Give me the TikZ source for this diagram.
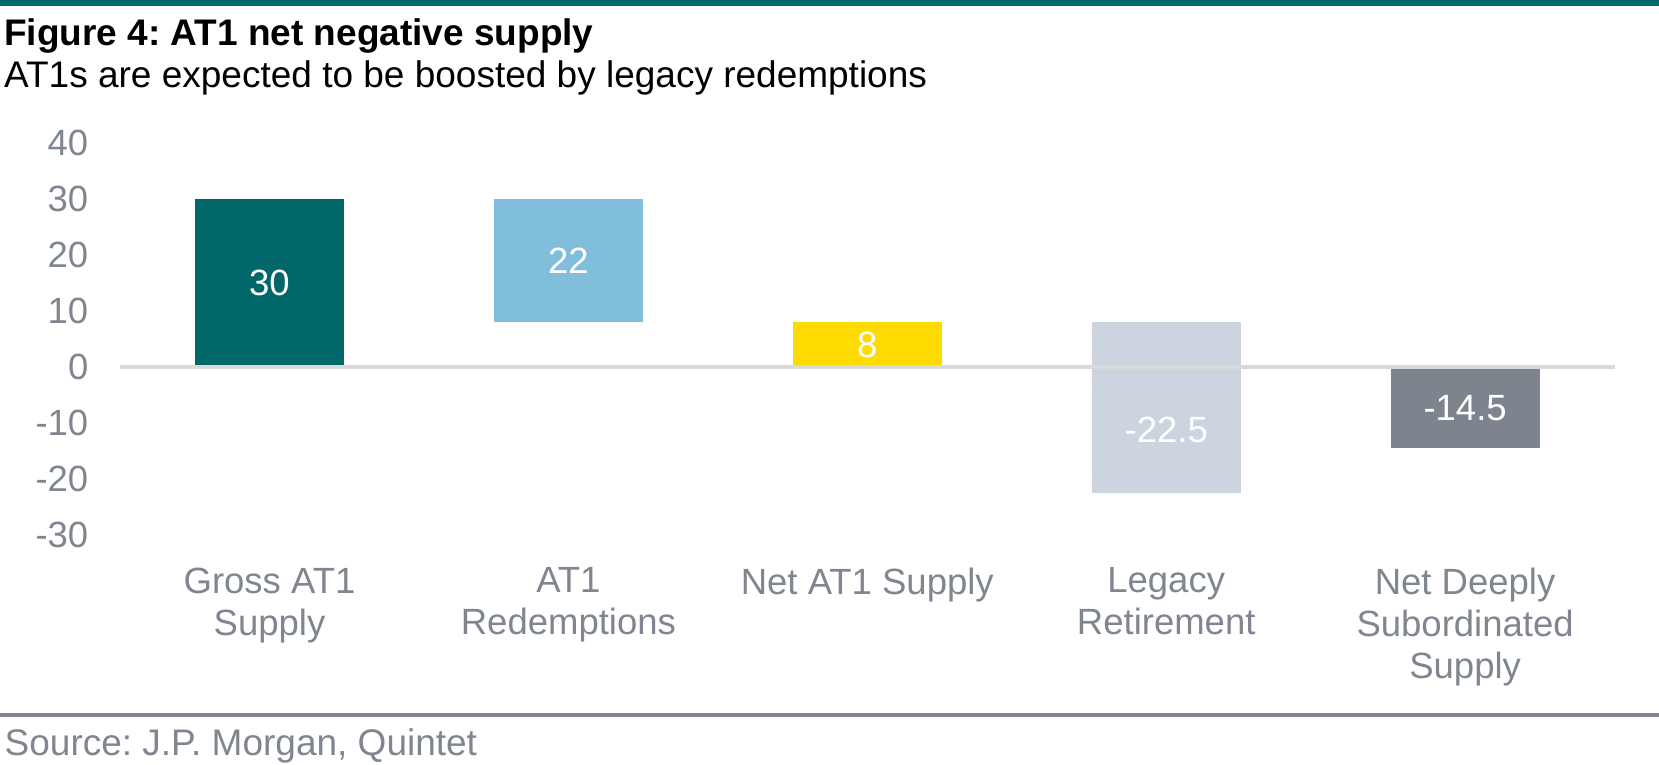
\documentclass[tikz,border=0pt]{standalone}
\usepackage{fontspec}
\setmainfont{Liberation Sans}
\frenchspacing

\definecolor{rulegreen}{RGB}{0,104,106}
\definecolor{grossteal}{RGB}{2,103,105}
\definecolor{redeemblue}{RGB}{128,190,219}
\definecolor{netyellow}{RGB}{255,220,0}
\definecolor{legacygrey}{RGB}{204,213,223}
\definecolor{deepgrey}{RGB}{126,132,142}
\definecolor{axisgrey}{RGB}{127,134,144}
\definecolor{zerogrey}{RGB}{217,217,217}

\newcommand{\headfont}{\fontsize{37bp}{42bp}\selectfont}
\newcommand{\chartfont}{\fontsize{36.5bp}{42bp}\selectfont}

\tikzset{
    ticklabel/.style = {anchor = east, inner sep = 0, text = axisgrey, font = \chartfont},
    barvalue/.style = {inner sep = 0, text = white, font = \chartfont},
    catlabel/.style = {anchor = north, inner sep = 0, align = center, text = axisgrey, font = \chartfont},
}

\begin{document}
\begin{tikzpicture}[%
        x = 1bp,
        y = -1bp,
        line cap = butt
    ]

        % Page size taken from the figure.
        \useasboundingbox (0, 0) rectangle (1659, 765);

        % Rules at the top and the bottom.
        \fill[rulegreen] (0, 0) rectangle (1659, 6);
        \fill[axisgrey] (0, 713) rectangle (1659, 717);

        % Heading and source.
        \node (title) at (4, 45.5) [anchor = base west, inner sep = 0, font = \headfont\bfseries] {Figure 4: AT1 net negative supply};
        \node (subtitle) at (4, 87) [anchor = base west, inner sep = 0, font = \headfont] {AT1s are expected to be boosted by legacy redemptions};
        \node (source) at (4.5, 755) [anchor = base west, inner sep = 0, text = axisgrey, font = \headfont] {Source: J.P. Morgan, Quintet};

        % Chart area in data units, zero at 367.
        \begin{scope}[shift = {(0, 367)}, y = 5.61bp]

            % Bars of the waterfall.
            \fill[grossteal] (195, 0) rectangle (344, 30);
            \fill[redeemblue] (493.9, 8) rectangle (642.9, 30);
            \fill[netyellow] (792.8, 0) rectangle (941.8, 8);
            \fill[legacygrey] (1091.7, 8) rectangle (1240.7, -22.5);
            \fill[deepgrey] (1390.6, 0) rectangle (1539.6, -14.5);

            % Zero line over the bars.
            \coordinate (zeroleft) at (120, 0);
            \coordinate (zeroright) at (1614.5, 0);
            \draw[zerogrey, line width = 4bp] (zeroleft) to (zeroright);

            % Values inside the bars.
            \node (grossval) at (269.5, 15) [barvalue] {30};
            \node (redeemval) at (568.4, 19) [barvalue] {22};
            \node (netval) at (867.3, 4) [barvalue] {8};
            \node (legacyval) at (1166.2, -11.25) [barvalue] {-22.5};
            \node (deepval) at (1465.1, -7.25) [barvalue] {-14.5};

            % Labels of the value axis.
            \node (tickA) at (88.5, 40) [ticklabel] {40};
            \node (tickB) at (88.5, 30) [ticklabel] {30};
            \node (tickC) at (88.5, 20) [ticklabel] {20};
            \node (tickD) at (88.5, 10) [ticklabel] {10};
            \node (tickE) at (88.5, 0) [ticklabel] {0};
            \node (tickF) at (88.5, -10) [ticklabel] {-10};
            \node (tickG) at (88.5, -20) [ticklabel] {-20};
            \node (tickH) at (88.5, -30) [ticklabel] {-30};
        \end{scope}

        % Category names under the chart.
        \node (grosscat) at (269.5, 567.5) [catlabel] {Gross AT1\\Supply};
        \node (redeemcat) at (568.4, 567.5) [catlabel] {AT1\\Redemptions};
        \node (netcat) at (867.3, 567.5) [catlabel] {Net AT1 Supply};
        \node (legacycat) at (1166.2, 567.5) [catlabel] {Legacy\\Retirement};
        \node (deepcat) at (1465.1, 567.5) [catlabel] {Net Deeply\\Subordinated\\Supply};
    \end{tikzpicture}
\end{document}
